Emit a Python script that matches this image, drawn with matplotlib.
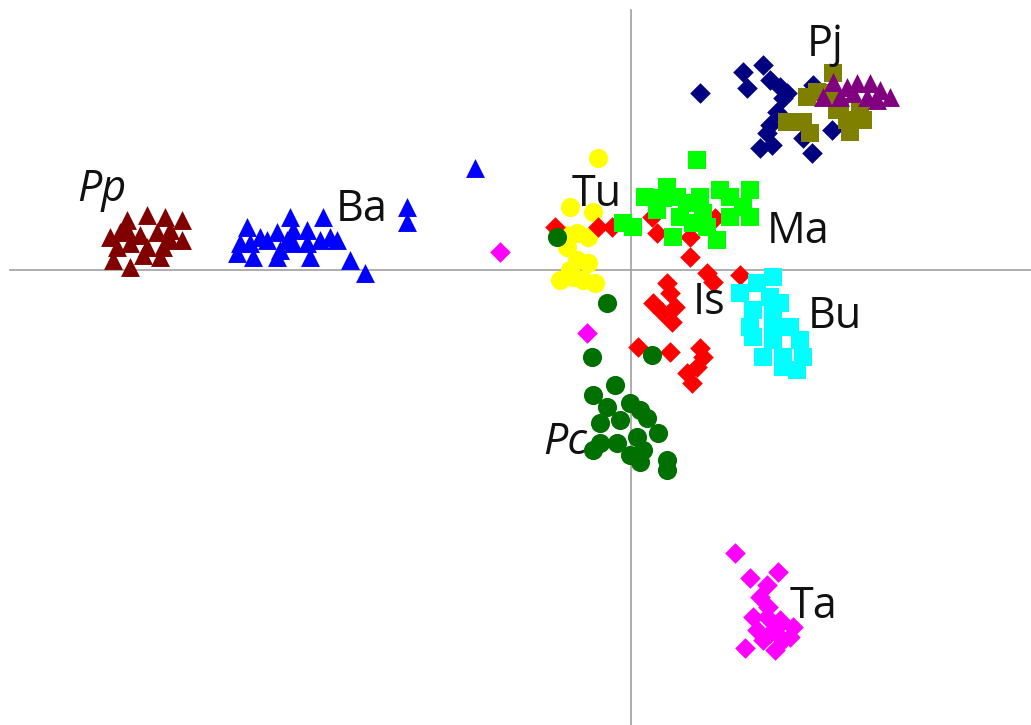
import matplotlib
matplotlib.use("Agg")
import matplotlib.pyplot as plt

# ---- data (component scores) ----
pp_x = [-5.04, -4.84, -4.66, -4.49, -5.21, -5.04, -4.91, -4.74, -4.61, -4.49, -5.14, -5.01, -4.84, -4.68, -4.61, -5.18, -5.01, -4.71, -4.88, -5.11]
pp_y = [0.50, 0.55, 0.53, 0.50, 0.33, 0.40, 0.35, 0.38, 0.40, 0.30, 0.23, 0.27, 0.23, 0.23, 0.30, 0.10, 0.03, 0.13, 0.15, 0.38]

ba_x = [-3.84, -3.91, -3.94, -3.81, -3.78, -3.64, -3.54, -3.41, -3.38, -3.24, -3.51, -3.54, -3.38, -3.24, -3.21, -3.11, -3.01, -2.94, -3.08, -2.81, -2.66, -3.71, -3.44, -2.24, -2.24, -1.56]
ba_y = [0.43, 0.27, 0.17, 0.27, 0.13, 0.30, 0.38, 0.53, 0.40, 0.40, 0.20, 0.13, 0.27, 0.27, 0.13, 0.30, 0.33, 0.30, 0.53, 0.10, -0.03, 0.33, 0.30, 0.63, 0.48, 1.02]

ta_x = [-1.31, -0.44, 1.04, 1.19, 1.47, 1.36, 1.29, 1.37, 1.22, 1.36, 1.49, 1.62, 1.26, 1.39, 1.52, 1.32, 1.44, 1.14, 1.59, 1.46]
ta_y = [0.18, -0.63, -2.83, -3.08, -3.02, -3.15, -3.27, -3.37, -3.47, -3.47, -3.50, -3.57, -3.60, -3.63, -3.70, -3.70, -3.80, -3.78, -3.67, -3.57]

pjn_x = [0.69, 1.12, 1.32, 1.16, 1.39, 1.49, 1.56, 1.52, 1.46, 1.39, 1.36, 1.29, 1.41, 1.72, 1.81, 2.01, 1.82]
pjn_y = [1.77, 1.98, 2.05, 1.82, 1.90, 1.83, 1.77, 1.72, 1.58, 1.45, 1.37, 1.22, 1.25, 1.32, 1.17, 1.40, 1.85]

pjo_x = [1.76, 1.86, 2.02, 2.06, 1.56, 1.72, 1.79, 2.16, 2.19, 2.32, 2.09, 2.29, 1.99]
pjo_y = [1.73, 1.78, 1.97, 1.60, 1.48, 1.48, 1.37, 1.50, 1.38, 1.50, 1.63, 1.60, 1.77]

pjp_x = [1.92, 2.02, 2.16, 2.26, 2.39, 2.49, 2.59, 2.36, 2.09, 2.22, 2.46]
pjp_y = [1.73, 1.88, 1.83, 1.87, 1.87, 1.80, 1.73, 1.73, 1.73, 1.77, 1.70]

ma_x = [0.66, 0.36, 0.14, 0.32, 0.46, 0.56, 0.69, 0.89, 0.99, 1.19, 1.12, 1.19, 0.72, 0.62, 0.42, 0.86, -0.08, 0.02, 0.76, 0.49, 0.26, 0.99]
ma_y = [1.10, 0.83, 0.73, 0.72, 0.73, 0.67, 0.73, 0.80, 0.73, 0.80, 0.63, 0.53, 0.57, 0.47, 0.33, 0.30, 0.47, 0.43, 0.43, 0.53, 0.60, 0.53]

is_x = [-0.76, -0.33, -0.19, 0.21, 0.26, 0.59, 0.59, 0.84, 0.76, 1.09, 0.36, 0.39, 0.22, 0.44, 0.31, 0.41, 0.07, 0.39, 0.69, 0.72, 0.66, 0.56, 0.61, 0.82]
is_y = [0.43, 0.43, 0.43, 0.53, 0.37, 0.13, 0.33, 0.52, -0.03, -0.05, -0.13, -0.23, -0.33, -0.37, -0.42, -0.52, -0.77, -0.82, -0.78, -0.87, -0.97, -1.03, -1.13, -0.12]

bu_x = [1.42, 1.09, 1.39, 1.22, 1.42, 1.19, 1.42, 1.59, 1.22, 1.42, 1.69, 1.32, 1.52, 1.72, 1.52, 1.66, 1.26, 1.49]
bu_y = [-0.07, -0.23, -0.27, -0.40, -0.43, -0.57, -0.53, -0.57, -0.67, -0.70, -0.70, -0.87, -0.87, -0.87, -0.97, -1.00, -0.13, -0.33]

pc_x = [-0.24, -0.39, 0.21, -0.16, -0.38, -0.24, -0.01, 0.09, 0.16, -0.31, -0.11, 0.27, 0.06, -0.31, -0.14, -0.38, -0.01, 0.12, 0.36, 0.36, 0.09, -0.74]
pc_y = [-0.33, -0.87, -0.85, -1.15, -1.25, -1.37, -1.33, -1.40, -1.48, -1.53, -1.50, -1.63, -1.67, -1.73, -1.73, -1.80, -1.85, -1.80, -1.90, -2.00, -1.92, 0.33]

tu_x = [-0.33, -0.61, -0.38, -0.66, -0.54, -0.43, -0.64, -0.54, -0.43, -0.71, -0.58, -0.48, -0.36, -0.61]
tu_y = [1.12, 0.63, 0.58, 0.35, 0.37, 0.33, 0.23, 0.10, 0.07, -0.10, -0.07, -0.10, -0.13, 0.00]

labels = ["Pp", "Ba", "Tu", "Pj", "Ma", "Is", "Bu", "Pc", "Ta"]
label_x = [-5.29, -2.69, -0.34, 1.94, 1.67, 0.78, 2.04, -0.66, 1.82]
label_y = [0.80, 0.60, 0.75, 2.25, 0.38, -0.33, -0.47, -1.73, -3.37]
label_italic = [True, False, False, False, False, False, False, True, False]

# ---- figure ----
fig = plt.figure(figsize=(10.31, 7.25), dpi=100)
ax = fig.add_axes([0, 0, 1, 1])
ax.set_xlim(-6.31, 4.00)
ax.set_ylim(-4.55, 2.70)
ax.axis("off")

ax.plot([-6.21, 4.0], [0, 0], color="#a0a0a0", lw=1.2, zorder=1)
ax.plot([0, 0], [-4.55, 2.60], color="#a0a0a0", lw=1.2, zorder=1)

tri = 185
dia = 110
sq = 165
circ = 190
ax.scatter(tu_x, tu_y, marker="o", s=circ, color="#FFFF00", linewidths=0, zorder=2)
ax.scatter(is_x, is_y, marker="D", s=dia, color="#FF0000", linewidths=0, zorder=3)
ax.scatter(pc_x, pc_y, marker="o", s=circ, color="#007000", linewidths=0, zorder=4)
ax.scatter(ma_x, ma_y, marker="s", s=sq, color="#00FF00", linewidths=0, zorder=5)
ax.scatter(bu_x, bu_y, marker="s", s=sq, color="#00FFFF", linewidths=0, zorder=5)
ax.scatter(ta_x, ta_y, marker="D", s=dia, color="#FF00FF", linewidths=0, zorder=5)
ax.scatter(ba_x, ba_y, marker="^", s=tri, color="#0000FF", linewidths=0, zorder=5)
ax.scatter(pp_x, pp_y, marker="^", s=tri, color="#800000", linewidths=0, zorder=5)
ax.scatter(pjn_x, pjn_y, marker="D", s=dia, color="#000080", linewidths=0, zorder=5)
ax.scatter(pjo_x, pjo_y, marker="s", s=sq, color="#808000", linewidths=0, zorder=6)
ax.scatter(pjp_x, pjp_y, marker="^", s=tri, color="#800080", linewidths=0, zorder=7)

for t, x, y, it in zip(labels, label_x, label_y, label_italic):
    ax.text(x, y, t, fontsize=31, family="Open Sans", style="italic" if it else "normal",
            ha="center", va="center", color="#111111", zorder=10)

fig.savefig("out.png", dpi=100)
